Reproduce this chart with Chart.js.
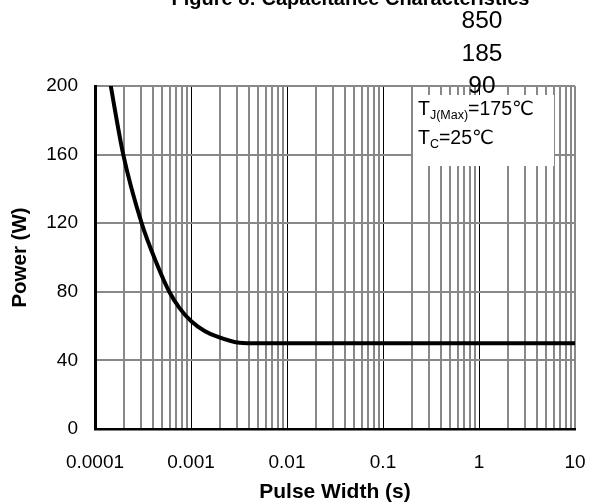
<!DOCTYPE html>
<html>
<head>
<meta charset="utf-8">
<script src="https://cdn.jsdelivr.net/npm/chart.js@4/dist/chart.umd.min.js"></script>
<style>
  html, body { margin: 0; padding: 0; background: #fff; }
  #wrap { width: 595px; height: 504px; }
</style>
</head>
<body>
<div id="wrap"><canvas id="c" width="595" height="504"></canvas></div>
<script>
// Safe operating power vs. single pulse width
const pulseWidth = [1.36e-4, 1.46e-4, 1.97e-4, 3.06e-4, 4.39e-4, 5.94e-4, 7.6e-4, 1.0e-3, 1.4e-3, 1.85e-3, 3.2e-3, 5e-3, 1e-2, 1e-1, 1, 10];
const powerW     = [210,     200,     160,     120,     96.5,    80,      70.5,   63,     57,     54,      50.3,   50,   50,   50,   50, 50];

const xDecades    = [1e-4, 1e-3, 1e-2, 1e-1, 1, 10];
const xTickLabels = ['0.0001', '0.001', '0.01', '0.1', '1', '10'];
const minorSteps  = [2, 3, 4, 5, 6, 7, 8, 9];
const yTicks      = [0, 40, 80, 120, 160, 200];

const titleText   = 'Figure 8: Capacitance Characteristics';
const stackNotes  = ['850', '185', '90'];
const condLines   = [
  [['T', 0], ['J(Max)', 1], ['=175\u2103', 0]],
  [['T', 0], ['C', 1], ['=25\u2103', 0]]
];

const FONT = "'Liberation Sans', Arial, 'DejaVu Sans', sans-serif";
const GRID_GRAY = '#888888';

// every vertical grid position: decades plus 2..9 within each decade
const xGridValues = [];
xDecades.forEach((d, i) => {
  xGridValues.push(d);
  if (i < xDecades.length - 1) minorSteps.forEach(m => xGridValues.push(+(m * d).toPrecision(3)));
});

function decadeIndex(v) {
  return xDecades.findIndex(d => Math.abs(v / d - 1) < 1e-6);
}

const overlay = {
  id: 'overlay',
  beforeDatasetsDraw(chart) {
    const ctx = chart.ctx;
    ctx.save();
    // condition box
    ctx.fillStyle = '#ffffff';
    ctx.fillRect(413, 95, 141, 71);
    ctx.fillStyle = '#000';
    ctx.textBaseline = 'alphabetic';
    const baselines = [115, 144];
    condLines.forEach((parts, li) => {
      let x = 418;
      parts.forEach(([txt, sub]) => {
        ctx.font = (sub ? '12.5px ' : '19.5px ') + FONT;
        ctx.fillText(txt, x, baselines[li] + (sub ? 3.5 : 0));
        x += ctx.measureText(txt).width;
      });
    });
    // stacked values at top right
    ctx.font = '24.5px ' + FONT;
    ctx.textAlign = 'center';
    const ys = [28.3, 61, 93.3];
    stackNotes.forEach((t, i) => ctx.fillText(t, 482, ys[i]));
    ctx.restore();
  },
  afterDraw(chart) {
    const ctx = chart.ctx;
    ctx.save();
    ctx.font = 'bold 20px ' + FONT;
    ctx.fillStyle = '#000';
    ctx.textAlign = 'center';
    ctx.textBaseline = 'alphabetic';
    ctx.fillText(titleText, 350.5, 5);
    ctx.restore();
  }
};

new Chart(document.getElementById('c'), {
  type: 'line',
  data: {
    datasets: [{
      data: pulseWidth.map((t, i) => ({ x: t, y: powerW[i] })),
      borderColor: '#000',
      borderWidth: 4,
      pointRadius: 0,
      cubicInterpolationMode: 'monotone',
      fill: false,
      clip: 0
    }]
  },
  options: {
    responsive: false,
    animation: false,
    devicePixelRatio: 1,
    layout: { padding: { top: 86, right: 20, left: 0, bottom: 0 } },
    plugins: { legend: { display: false }, tooltip: { enabled: false } },
    scales: {
      x: {
        type: 'logarithmic',
        min: 1e-4,
        max: 10,
        afterBuildTicks: s => { s.ticks = xGridValues.map(v => ({ value: v })); },
        afterFit: s => { s.height = 75; s.paddingLeft = 0; s.paddingRight = 0; },
        ticks: {
          autoSkip: false,
          maxRotation: 0,
          padding: 22,
          color: '#000',
          font: { family: FONT, size: 19 },
          callback: v => { const i = decadeIndex(v); return i >= 0 ? xTickLabels[i] : ''; }
        },
        grid: {
          drawTicks: false,
          color: c => {
            const v = c.tick ? c.tick.value : 0;
            const i = decadeIndex(v);
            if (i === 0) return 'rgba(0,0,0,0)';
            if (i > 0 && i < xDecades.length - 1) return '#000';
            return GRID_GRAY;
          },
          lineWidth: c => {
            const i = decadeIndex(c.tick ? c.tick.value : 0);
            return (i > 0 && i < xDecades.length - 1) ? 1 : 2;
          }
        },
        border: { color: '#000', width: 2.5 },
        title: {
          display: true,
          text: 'Pulse Width (s)',
          color: '#000',
          font: { family: FONT, size: 21, weight: 'bold', lineHeight: 1 },
          padding: { top: 0, bottom: 1 }
        }
      },
      y: {
        min: 0,
        max: 200,
        afterBuildTicks: s => { s.ticks = yTicks.map(v => ({ value: v })); },
        afterFit: s => { s.width = 95; s.paddingTop = 0; s.paddingBottom = 0; },
        ticks: {
          padding: 17,
          color: '#000',
          font: { family: FONT, size: 19 }
        },
        grid: {
          drawTicks: false,
          color: c => (c.tick && c.tick.value === 0) ? 'rgba(0,0,0,0)' : GRID_GRAY,
          lineWidth: 2
        },
        border: { color: '#000', width: 3 },
        title: {
          display: true,
          text: 'Power (W)',
          color: '#000',
          font: { family: FONT, size: 20.5, weight: 'bold', lineHeight: 1 },
          padding: { top: 10, bottom: 0 }
        }
      }
    }
  },
  plugins: [overlay]
});
</script>
</body>
</html>
